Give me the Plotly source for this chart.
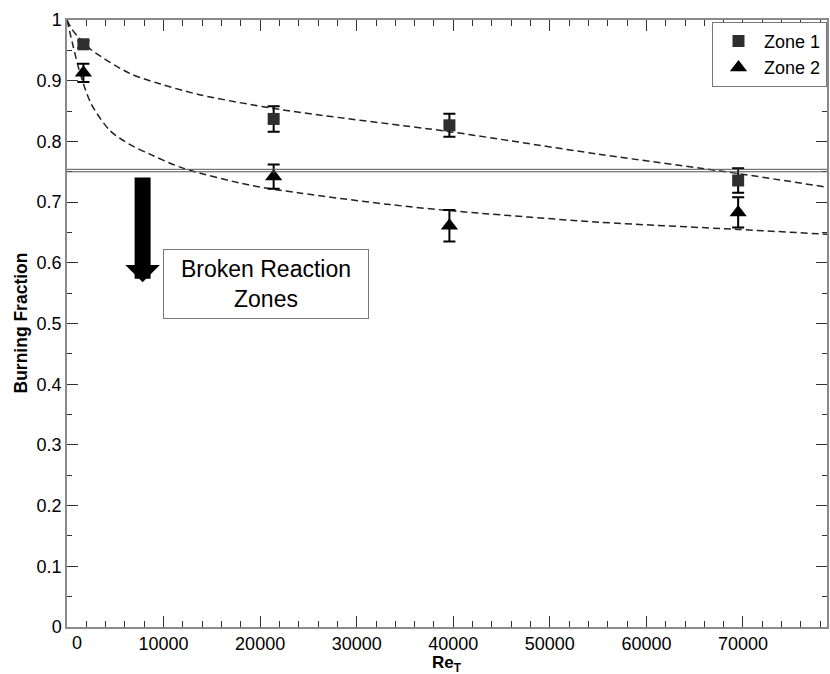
import plotly.graph_objects as go

# ---- data ----
re_t = [1700, 21400, 39600, 69500]
zone1 = [0.960, 0.837, 0.8265, 0.7356]
zone1_err = [0.006, 0.021, 0.019, 0.020]
zone2 = [0.913, 0.742, 0.661, 0.683]
zone2_err = [0.015, 0.020, 0.026, 0.025]

fit1_x = [0, 500, 1000, 2500, 6500, 9600, 13700, 22300, 39600, 55000, 69500, 78700]
fit1_y = [1.0, 0.985, 0.975, 0.951, 0.912, 0.895, 0.877, 0.852, 0.816, 0.779, 0.747, 0.7245]

fit2_x = [0, 650, 1343, 2500, 4442, 6500, 8574, 12000, 18900, 24070, 33400, 39600, 55000, 69500, 78700]
fit2_y = [1.0, 0.956, 0.913, 0.862, 0.818, 0.795, 0.779, 0.756, 0.728, 0.715, 0.696, 0.686, 0.667, 0.655, 0.647]

threshold = 0.752
x_tickvals = [0, 10000, 20000, 30000, 40000, 50000, 60000, 70000]
x_ticktext = ["", "10000", "20000", "30000", "40000", "50000", "60000", "70000"]
x_zero_label = "0"

FONT = "Arial, Liberation Sans, sans-serif"

fig = go.Figure()

fig.add_trace(go.Scatter(x=fit1_x, y=fit1_y, mode="lines", showlegend=False,
                         line=dict(color="#222", width=1.5, dash="7px,4px", shape="spline", smoothing=0.8),
                         hoverinfo="skip"))
fig.add_trace(go.Scatter(x=fit2_x, y=fit2_y, mode="lines", showlegend=False,
                         line=dict(color="#222", width=1.5, dash="7px,4px", shape="spline", smoothing=0.8),
                         hoverinfo="skip"))

fig.add_trace(go.Scatter(x=re_t, y=zone1, mode="markers", name="Zone 1",
                         marker=dict(symbol="square", size=12, color="#2e2e2e"),
                         error_y=dict(type="data", array=zone1_err, color="black", thickness=2, width=6)))
fig.add_trace(go.Scatter(x=re_t, y=zone2, mode="markers", name="Zone 2",
                         marker=dict(symbol="triangle-up", size=15, color="black"),
                         error_y=dict(type="data", array=zone2_err, color="black", thickness=2, width=6)))

# double threshold line
for dy in (-0.002, 0.002):
    fig.add_shape(type="line", xref="paper", x0=0, x1=1, yref="y", y0=threshold + dy, y1=threshold + dy,
                  line=dict(color="#555", width=1))

# arrow
fig.add_annotation(x=7830, y=0.568, ax=7830, ay=0.743, xref="x", yref="y", axref="x", ayref="y",
                   text="", showarrow=True, arrowhead=1, arrowwidth=16, arrowsize=0.36,
                   arrowcolor="black", standoff=0)

# text box
fig.add_annotation(x=20640, y=0.5647, xref="x", yref="y", text="Broken Reaction<br>Zones",
                   showarrow=False, font=dict(family=FONT, size=23, color="black"),
                   bordercolor="#777", borderwidth=1, borderpad=4, width=196, height=60,
                   bgcolor="white", align="center")

# x "0" tick label, nudged right as in the reference
fig.add_annotation(x=0, y=0, xref="x", yref="paper", xshift=10, yshift=-16, xanchor="center", yanchor="middle",
                   text=x_zero_label, showarrow=False, font=dict(family=FONT, size=18, color="black"))

# axis titles
fig.add_annotation(x=0, y=0.5, xref="paper", yref="paper", xshift=-47, xanchor="center", yanchor="middle",
                   text="<b>Burning Fraction</b>", textangle=-90, showarrow=False,
                   font=dict(family=FONT, size=17.5, color="black"))
fig.add_annotation(x=0.5, y=0, xref="paper", yref="paper", yshift=-37, xanchor="center", yanchor="middle",
                   text="<b>Re<sub>T</sub></b>", showarrow=False,
                   font=dict(family=FONT, size=17, color="black"))

axis_common = dict(showline=True, linecolor="#8a8a8a", linewidth=1.5, mirror="allticks",
                   ticks="inside", tickcolor="#333", tickwidth=1, showgrid=False, zeroline=False,
                   tickfont=dict(family=FONT, size=18, color="black"))

fig.update_xaxes(range=[0, 78700], tickmode="array", tickvals=x_tickvals, ticktext=x_ticktext,
                 ticklen=11, minor=dict(ticks="inside", ticklen=6, tickcolor="#333", tickmode="linear",
                                        tick0=0, dtick=2000, showgrid=False),
                 **axis_common)
fig.update_yaxes(range=[0, 1], tickmode="linear", tick0=0, dtick=0.1, ticklen=11,
                 minor=dict(ticks="inside", ticklen=5, tickcolor="#333", dtick=0.05, showgrid=False),
                 **axis_common)

fig.update_layout(
    width=830, height=674,
    margin=dict(l=67, r=1, t=20, b=47),
    plot_bgcolor="white", paper_bgcolor="white",
    font=dict(family=FONT, color="black"),
    legend=dict(x=1, y=0.997, xanchor="right", yanchor="top", bordercolor="#777", borderwidth=1,
                bgcolor="white", font=dict(family=FONT, size=18, color="black"), itemwidth=41,
                tracegroupgap=0),
    showlegend=True,
)

fig.write_html("out.html")
